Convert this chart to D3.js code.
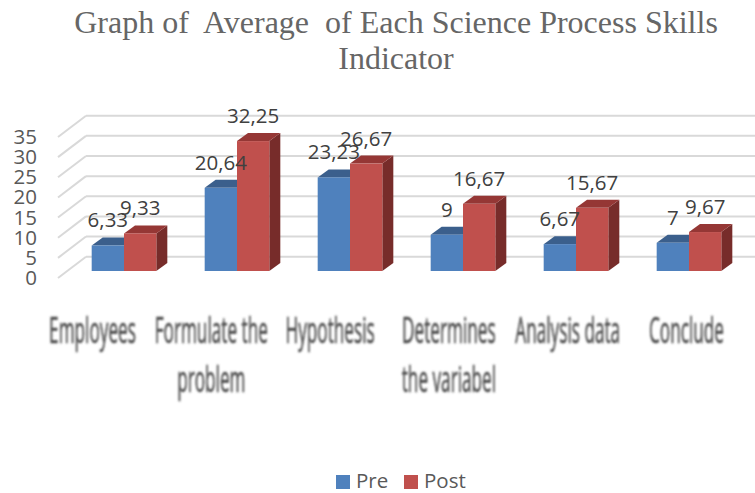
<!DOCTYPE html>
<html lang="en">
<head>
<meta charset="UTF-8"/>
<title>Graph of Average of Each Science Process Skills Indicator</title>
<script src="https://d3js.org/d3.v7.min.js"></script>
<style>
    html, body { margin: 0; padding: 0; background: #fff; }
    svg { display: block; }
</style>
</head>
<body>
<script>
    // Data
    var categories = [["Employees"], ["Formulate the", "problem"], ["Hypothesis"], ["Determines", "the variabel"], ["Analysis data"], ["Conclude"]];
    var seriesNames = ["Pre", "Post"];
    var pre = [6.33, 20.64, 23.23, 9, 6.67, 7];
    var post = [9.33, 32.25, 26.67, 16.67, 15.67, 9.67];
    var yTicks = [0, 5, 10, 15, 20, 25, 30, 35];

    var w = 755;
    var h = 493;

    // Bar faces and their shaded sides
    var front = { Pre: "#4f81bd", Post: "#c0504d" };
    var top3d = { Pre: "#3b5f8c", Post: "#953735" };
    var side3d = { Pre: "#2f4d72", Post: "#772c2a" };
    var depthX = 11;
    var depthY = 8;

    var svg = d3.select("body")
        .append("svg")
        .attr("width", w)
        .attr("height", h);

    // Three vertical scales: the axis edge, the back wall and the bar fronts
    var yAxis = d3.scaleLinear().domain([0, 35]).range([278, 137]);
    var yWall = d3.scaleLinear().domain([0, 35]).range([256.7, 115.7]);
    var yBar = d3.scaleLinear().domain([0, 35]).range([271, 130]);

    var x0 = d3.scaleBand()
        .domain(d3.range(categories.length))
        .range([67.5, 745.5])
        .paddingInner(0.428)
        .paddingOuter(0.214);
    var x1 = d3.scaleBand()
        .domain(seriesNames)
        .range([0, x0.bandwidth()]);

    // The category labels spread wider apart than the bars do
    var xLabel = d3.scalePoint()
        .domain(d3.range(categories.length))
        .range([92.5, 686.5]);

    // Title
    var title = svg.append("g")
        .attr("font-family", "'Liberation Serif', serif")
        .attr("font-size", "32px")
        .attr("fill", "#666666")
        .attr("text-anchor", "middle");
    title.append("text").attr("x", 396).attr("y", 33)
        .style("white-space", "pre")
        .text("Graph of  Average  of Each Science Process Skills");
    title.append("text").attr("x", 396).attr("y", 69).text("Indicator");

    // Gridlines on the wall and the floor edges
    svg.selectAll("line.grid")
        .data(yTicks)
        .enter()
        .append("line")
        .attr("class", "grid")
        .attr("x1", 86)
        .attr("x2", w)
        .attr("y1", function(d) { return yWall(d); })
        .attr("y2", function(d) { return yWall(d); })
        .attr("stroke", "#d9d9d9")
        .attr("stroke-width", 2);

    svg.selectAll("line.edge")
        .data(yTicks)
        .enter()
        .append("line")
        .attr("class", "edge")
        .attr("x1", 58)
        .attr("x2", 86)
        .attr("y1", function(d) { return yAxis(d); })
        .attr("y2", function(d) { return yWall(d); })
        .attr("stroke", "#d9d9d9")
        .attr("stroke-width", 2);

    // Y axis tick labels
    var axis = svg.append("g")
        .attr("transform", "translate(37,0)")
        .call(d3.axisLeft(yAxis).tickValues(yTicks).tickSize(0).tickPadding(0));
    axis.select(".domain").remove();
    axis.selectAll("text")
        .attr("font-family", "'Open Sans', sans-serif")
        .attr("font-size", "20.5px")
        .attr("fill", "#595959");

    // One group per category, with the two bars inside
    var rows = categories.map(function(c, i) {
        return [
            { name: "Pre", value: pre[i], i: i },
            { name: "Post", value: post[i], i: i }
        ];
    });

    var groups = svg.selectAll("g.group")
        .data(rows)
        .enter()
        .append("g")
        .attr("class", "group")
        .attr("transform", function(d, i) { return "translate(" + x0(i) + ",0)"; });

    var bars = groups.selectAll("g.bar")
        .data(function(d) { return d; })
        .enter()
        .append("g")
        .attr("class", "bar");

    // Right side of the box
    bars.append("path")
        .attr("fill", function(d) { return side3d[d.name]; })
        .attr("d", function(d) {
            var r = x1(d.name) + x1.bandwidth();
            return "M" + r + "," + yBar(d.value) +
                "l" + depthX + "," + (-depthY) +
                "L" + (r + depthX) + "," + (yBar(0) - depthY) +
                "L" + r + "," + yBar(0) + "Z";
        });

    // Top of the box
    bars.append("path")
        .attr("fill", function(d) { return top3d[d.name]; })
        .attr("d", function(d) {
            var l = x1(d.name);
            var t = yBar(d.value);
            return "M" + l + "," + t +
                "l" + depthX + "," + (-depthY) +
                "h" + x1.bandwidth() +
                "l" + (-depthX) + "," + depthY + "Z";
        });

    // Front face
    bars.append("rect")
        .attr("x", function(d) { return x1(d.name); })
        .attr("y", function(d) { return yBar(d.value); })
        .attr("width", x1.bandwidth())
        .attr("height", function(d) { return yBar(0) - yBar(d.value); })
        .attr("fill", function(d) { return front[d.name]; });

    // Value labels, drawn last so they sit over every bar
    svg.selectAll("g.labels")
        .data(rows)
        .enter()
        .append("g")
        .attr("class", "labels")
        .attr("transform", function(d, i) { return "translate(" + x0(i) + ",0)"; })
        .selectAll("text")
        .data(function(d) { return d; })
        .enter()
        .append("text")
        .attr("x", function(d) { return x1(d.name) + x1.bandwidth() / 2; })
        .attr("y", function(d) { return yBar(d.value) - 18; })
        .attr("text-anchor", "middle")
        .attr("font-family", "'Open Sans', sans-serif")
        .attr("font-size", "20.5px")
        .attr("fill", "#404040")
        .text(function(d) { return String(d.value).replace(".", ","); });

    // Category labels, stretched tall and blurred like the picture
    var blur = svg.append("defs").append("filter").attr("id", "soft");
    blur.append("feGaussianBlur").attr("stdDeviation", 0.8);

    var cats = svg.selectAll("g.cat")
        .data(categories)
        .enter()
        .append("g")
        .attr("class", "cat")
        .attr("filter", "url(#soft)")
        .attr("transform", function(d, i) { return "translate(" + xLabel(i) + ",0)"; });

    cats.selectAll("text")
        .data(function(d) { return d; })
        .enter()
        .append("text")
        .attr("transform", function(d, i) { return "translate(0," + (343 + i * 48.5) + ") scale(0.86,1.8)"; })
        .attr("text-anchor", "middle")
        .attr("font-family", "'Open Sans', sans-serif")
        .attr("font-size", "20px")
        .attr("fill", "#4d4d4d")
        .attr("stroke", "#4d4d4d")
        .attr("stroke-width", 0.3)
        .text(function(d) { return d; });

    // Legend
    var legendX = d3.scaleOrdinal().domain(seriesNames).range([336, 404]);
    var legend = svg.selectAll("g.legend")
        .data(seriesNames)
        .enter()
        .append("g")
        .attr("class", "legend")
        .attr("transform", function(d) { return "translate(" + legendX(d) + ",475)"; });
    legend.append("rect")
        .attr("width", 14)
        .attr("height", 14)
        .attr("fill", function(d) { return front[d]; });
    legend.append("text")
        .attr("x", 20)
        .attr("y", 13)
        .attr("font-family", "'Open Sans', sans-serif")
        .attr("font-size", "20.5px")
        .attr("fill", "#595959")
        .text(function(d) { return d; });
</script>
</body>
</html>
